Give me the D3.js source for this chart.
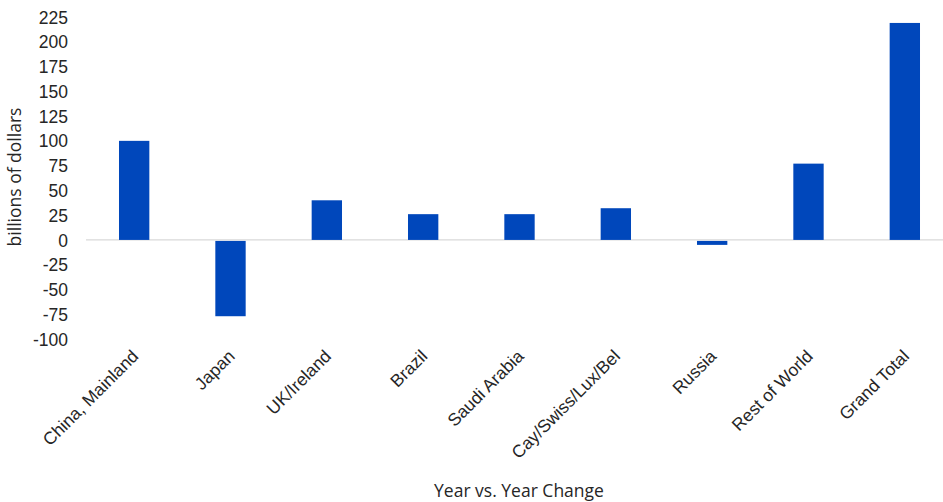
<!DOCTYPE html>
<html>
<head>
<meta charset="utf-8">
<script src="https://cdn.jsdelivr.net/npm/d3@7"></script>
<style>
  html, body { margin: 0; padding: 0; background: #fff; }
  svg { display: block; font-family: "Open Sans", "Noto Sans", sans-serif; }
</style>
</head>
<body>
<svg id="chart" width="943" height="502"></svg>
<script>
const categories = ["China, Mainland", "Japan", "UK/Ireland", "Brazil", "Saudi Arabia", "Cay/Swiss/Lux/Bel", "Russia", "Rest of World", "Grand Total"];
const values = [100, -76, 40, 26, 26, 32, -4, 77, 219];
const yTicks = [225, 200, 175, 150, 125, 100, 75, 50, 25, 0, -25, -50, -75, -100];
const yTitle = "billions of dollars";
const xTitle = "Year vs. Year Change";

const svg = d3.select("#chart");
const left = 86, right = 953;
const FS = "17.5px";

const y = d3.scaleLinear().domain([-100, 225]).range([339, 17]);
const x = d3.scaleBand().domain(categories).range([left, right]).paddingInner(0.685).paddingOuter(0.3425);

// zero line
svg.append("line")
  .attr("x1", left).attr("x2", right)
  .attr("y1", y(0)).attr("y2", y(0))
  .attr("stroke", "#d9d9d9").attr("stroke-width", 1.3);

// bars
svg.append("g").selectAll("rect").data(values).join("rect")
  .attr("x", (d, i) => x(categories[i]))
  .attr("width", x.bandwidth())
  .attr("y", d => y(Math.max(0, d)) + (d < 0 ? 1 : 0))
  .attr("height", d => Math.abs(y(d) - y(0)))
  .attr("fill", "#0047BB");

// y axis
const yAxis = d3.axisLeft(y).tickValues(yTicks).tickSize(0).tickPadding(0).tickFormat(d => String(d));
const yg = svg.append("g").attr("transform", "translate(68,0)").call(yAxis);
yg.select(".domain").remove();
yg.selectAll("text").attr("fill", "#262626").style("font-size", FS).attr("dy", "0.35em");

// x axis labels
const xAxis = d3.axisBottom(x).tickSize(0).tickPadding(0);
const xg = svg.append("g").attr("transform", "translate(0,353)").call(xAxis);
xg.select(".domain").remove();
xg.selectAll("text")
  .attr("fill", "#262626").style("font-size", FS)
  .attr("text-anchor", "end")
  .attr("dy", "0.35em")
  .attr("transform", "translate(1,0) rotate(-45)")
  .attr("y", 0).attr("x", 0);

// titles
svg.append("text")
  .attr("x", 519).attr("y", 497)
  .attr("text-anchor", "middle")
  .attr("fill", "#262626").style("font-size", FS)
  .text(xTitle);

svg.append("text")
  .attr("transform", "translate(21,177) rotate(-90)")
  .attr("text-anchor", "middle")
  .attr("fill", "#262626").style("font-size", FS)
  .text(yTitle);
</script>
</body>
</html>
